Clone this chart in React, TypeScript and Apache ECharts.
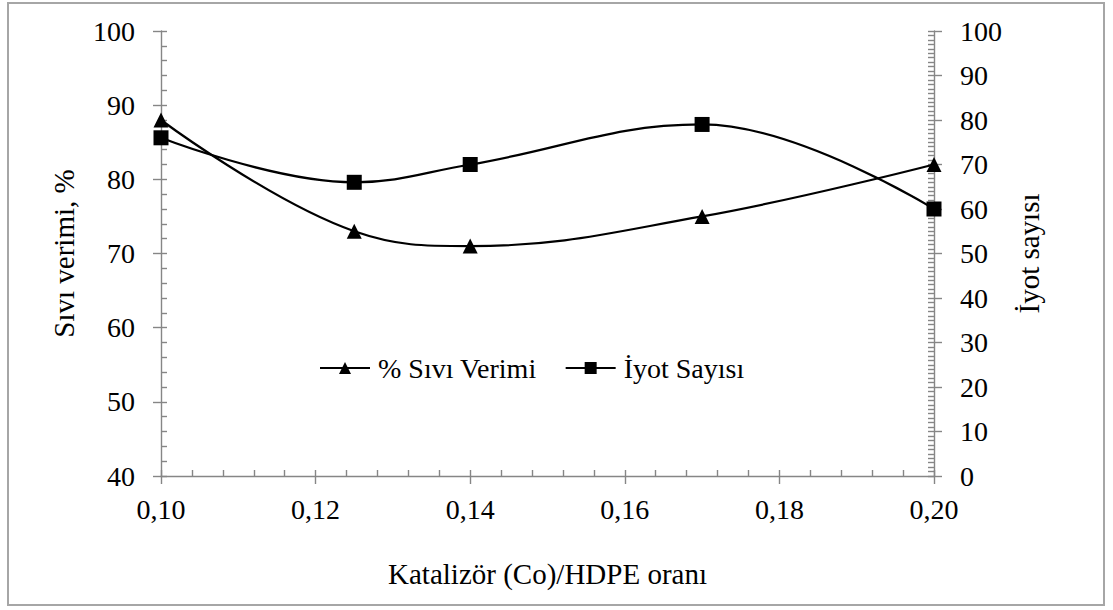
import React, { useEffect, useRef } from "react";
import * as echarts from "echarts";

const ratio = [0.1, 0.125, 0.14, 0.17, 0.2];
const liquidYield = [88, 73, 71, 75, 82];
const iodineNumber = [76, 66, 70, 79, 60];
const seriesNames = ["% Sıvı Verimi", "İyot Sayısı"];
const xTitle = "Katalizör (Co)/HDPE oranı";
const leftTitle = "Sıvı verimi, %";
const rightTitle = "İyot sayısı";

const FONT = "'Liberation Serif', 'Times New Roman', serif";
const AXIS = "#868686";

export default function App() {
  const ref = useRef<HTMLDivElement>(null);
  useEffect(() => {
    if (!ref.current) return;
    const chart = echarts.init(ref.current, null, { renderer: "svg" });
    const tickLabel = { color: "#000", fontFamily: FONT, fontSize: 28 };
    const nameStyle = { color: "#000", fontFamily: FONT, fontSize: 29 };
    const tickLine = { color: AXIS, width: 1.4 };
    const dupY = (pos: "left" | "right", min: number, max: number) => ({
      type: "value",
      position: pos,
      min,
      max,
      interval: 10,
      axisLine: { show: false },
      axisLabel: { show: false },
      splitLine: { show: false },
      axisTick: { show: true, inside: false, length: 8, lineStyle: tickLine },
    });
    chart.setOption({
      animation: false,
      graphic: [
        {
          type: "rect",
          shape: { x: 8, y: 3, width: 1096, height: 602 },
          style: { fill: "none", stroke: "#a6a6a6", lineWidth: 2 },
          silent: true,
        },
      ],
      grid: { left: 161, right: 179, top: 31, bottom: 134 },
      legend: {
        left: 314,
        top: 349,
        itemWidth: 50,
        itemHeight: 15,
        itemGap: 28,
        textStyle: { color: "#000", fontFamily: FONT, fontSize: 28, padding: [0, 0, 0, 3] },
        data: seriesNames,
      },
      xAxis: [
        {
          type: "value",
          min: 0.1,
          max: 0.2,
          interval: 0.02,
          name: xTitle,
          nameLocation: "middle",
          nameGap: 83,
          nameTextStyle: nameStyle,
          axisLine: { show: true, lineStyle: tickLine },
          axisTick: { show: true, inside: true, length: 6, lineStyle: tickLine },
          minorTick: { show: true, splitNumber: 5, length: 6, lineStyle: tickLine },
          splitLine: { show: false },
          axisLabel: {
            ...tickLabel,
            margin: 19,
            formatter: (v: number) => v.toFixed(2).replace(".", ","),
          },
        },
        {
          type: "value",
          min: 0.1,
          max: 0.2,
          interval: 0.02,
          position: "bottom",
          axisLine: { show: false },
          axisLabel: { show: false },
          splitLine: { show: false },
          axisTick: { show: true, inside: false, length: 8, lineStyle: tickLine },
        },
      ],
      yAxis: [
        {
          type: "value",
          position: "left",
          min: 40,
          max: 100,
          interval: 10,
          name: leftTitle,
          nameLocation: "middle",
          nameGap: 83,
          nameRotate: 90,
          nameTextStyle: nameStyle,
          axisLine: { show: true, lineStyle: tickLine },
          axisTick: { show: true, inside: true, length: 6, lineStyle: tickLine },
          minorTick: { show: true, splitNumber: 5, length: 6, lineStyle: tickLine },
          splitLine: { show: false },
          axisLabel: { ...tickLabel, margin: 26 },
        },
        {
          type: "value",
          position: "right",
          min: 0,
          max: 100,
          interval: 10,
          name: rightTitle,
          nameLocation: "middle",
          nameGap: 80,
          nameRotate: 90,
          nameTextStyle: nameStyle,
          axisLine: { show: true, lineStyle: tickLine },
          axisTick: { show: true, inside: true, length: 6, lineStyle: tickLine },
          minorTick: { show: true, splitNumber: 10, length: 6, lineStyle: tickLine },
          splitLine: { show: false },
          axisLabel: { ...tickLabel, margin: 26 },
        },
        dupY("left", 40, 100),
        dupY("right", 0, 100),
      ],
      series: [
        {
          name: seriesNames[0],
          type: "line",
          xAxisIndex: 0,
          yAxisIndex: 0,
          smooth: 0.4,
          symbol: "triangle",
          symbolSize: 15,
          itemStyle: { color: "#000" },
          lineStyle: { color: "#000", width: 2.2 },
          data: ratio.map((x, i) => [x, liquidYield[i]]),
        },
        {
          name: seriesNames[1],
          type: "line",
          xAxisIndex: 0,
          yAxisIndex: 1,
          smooth: 0.4,
          symbol: "rect",
          symbolSize: 15,
          itemStyle: { color: "#000" },
          lineStyle: { color: "#000", width: 2.2 },
          data: ratio.map((x, i) => [x, iodineNumber[i]]),
        },
      ],
    });
    return () => chart.dispose();
  }, []);
  return (
    <div
      ref={ref}
      style={{ position: "fixed", left: 0, top: 0, width: 1113, height: 610, background: "#fff" }}
    />
  );
}
